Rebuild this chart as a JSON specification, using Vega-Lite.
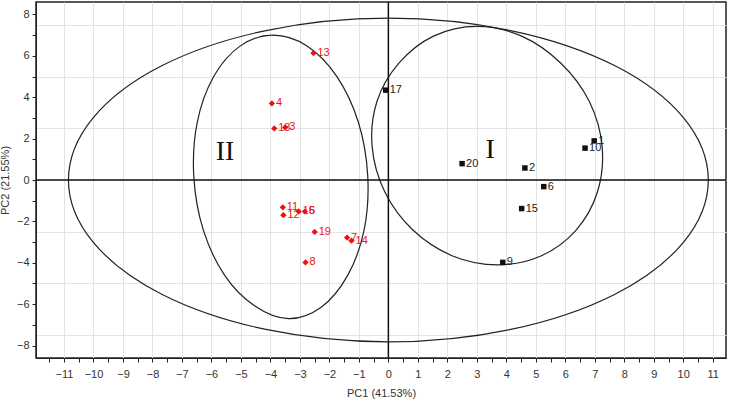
{
  "$schema": "https://vega.github.io/schema/vega-lite/v6.json",
  "width": 690,
  "height": 356,
  "autosize": "none",
  "padding": {"left": 36, "top": 2, "right": 14, "bottom": 44},
  "background": "white",
  "config": {
    "font": "Liberation Sans",
    "view": {"stroke": "#222", "strokeWidth": 1.5},
    "axis": {
      "domainColor": "#222",
      "tickColor": "#222",
      "gridColor": "#e3e3e3",
      "labelFont": "Liberation Sans",
      "labelFontSize": 11,
      "labelColor": "#333",
      "titleFont": "Liberation Sans",
      "titleFontSize": 11,
      "titleFontWeight": "normal",
      "titleColor": "#333",
      "labelOverlap": false,
      "labelFlush": false
    }
  },
  "datasets": {
    "red": [
      {"x": -2.54, "y": 6.13, "label": "13"},
      {"x": -3.95, "y": 3.70, "label": "4"},
      {"x": -3.87, "y": 2.49, "label": "18"},
      {"x": -3.50, "y": 2.54, "label": "3"},
      {"x": -3.58, "y": -1.32, "label": "11"},
      {"x": -3.56, "y": -1.70, "label": "12"},
      {"x": -3.04, "y": -1.52, "label": "16"},
      {"x": -2.83, "y": -1.52, "label": "5"},
      {"x": -2.50, "y": -2.51, "label": "19"},
      {"x": -1.40, "y": -2.78, "label": "7"},
      {"x": -1.25, "y": -2.93, "label": "14"},
      {"x": -2.81, "y": -3.98, "label": "8"}
    ],
    "black": [
      {"x": 6.98, "y": 1.89, "label": "1"},
      {"x": 6.67, "y": 1.54, "label": "10"},
      {"x": 2.50, "y": 0.79, "label": "20"},
      {"x": 4.63, "y": 0.58, "label": "2"},
      {"x": 5.27, "y": -0.32, "label": "6"},
      {"x": 4.52, "y": -1.38, "label": "15"},
      {"x": 3.88, "y": -3.98, "label": "9"},
      {"x": -0.09, "y": 4.34, "label": "17"}
    ],
    "roman": [
      {"x": 3.45, "y": 1.45, "label": "I"},
      {"x": -5.54, "y": 1.35, "label": "II"}
    ],
    "ellipses": [
      {"e": "big", "i": 0, "x": 10.85, "y": 0},
      {"e": "big", "i": 1, "x": 10.02, "y": 2.99},
      {"e": "big", "i": 2, "x": 7.67, "y": 5.53},
      {"e": "big", "i": 3, "x": 4.15, "y": 7.22},
      {"e": "big", "i": 4, "x": 0, "y": 7.82},
      {"e": "big", "i": 5, "x": -4.15, "y": 7.22},
      {"e": "big", "i": 6, "x": -7.67, "y": 5.53},
      {"e": "big", "i": 7, "x": -10.02, "y": 2.99},
      {"e": "big", "i": 8, "x": -10.85, "y": 0},
      {"e": "big", "i": 9, "x": -10.02, "y": -2.99},
      {"e": "big", "i": 10, "x": -7.67, "y": -5.53},
      {"e": "big", "i": 11, "x": -4.15, "y": -7.22},
      {"e": "big", "i": 12, "x": 0, "y": -7.82},
      {"e": "big", "i": 13, "x": 4.15, "y": -7.22},
      {"e": "big", "i": 14, "x": 7.67, "y": -5.53},
      {"e": "big", "i": 15, "x": 10.02, "y": -2.99},
      {"e": "II", "i": 0, "x": -0.70, "y": 0.20},
      {"e": "II", "i": 1, "x": -1.02, "y": 2.80},
      {"e": "II", "i": 2, "x": -1.75, "y": 5.01},
      {"e": "II", "i": 3, "x": -2.76, "y": 6.48},
      {"e": "II", "i": 4, "x": -3.91, "y": 7.00},
      {"e": "II", "i": 5, "x": -5.02, "y": 6.48},
      {"e": "II", "i": 6, "x": -5.92, "y": 5.01},
      {"e": "II", "i": 7, "x": -6.48, "y": 2.80},
      {"e": "II", "i": 8, "x": -6.60, "y": 0.20},
      {"e": "II", "i": 9, "x": -6.28, "y": -2.40},
      {"e": "II", "i": 10, "x": -5.55, "y": -4.61},
      {"e": "II", "i": 11, "x": -4.54, "y": -6.08},
      {"e": "II", "i": 12, "x": -3.39, "y": -6.70},
      {"e": "II", "i": 13, "x": -2.28, "y": -6.15},
      {"e": "II", "i": 14, "x": -1.38, "y": -4.61},
      {"e": "II", "i": 15, "x": -0.82, "y": -2.40},
      {"e": "I", "i": 0, "x": 7.25, "y": 1.60},
      {"e": "I", "i": 1, "x": 6.82, "y": 3.78},
      {"e": "I", "i": 2, "x": 5.86, "y": 5.63},
      {"e": "I", "i": 3, "x": 4.52, "y": 6.95},
      {"e": "I", "i": 4, "x": 3.00, "y": 7.42},
      {"e": "I", "i": 5, "x": 1.53, "y": 6.95},
      {"e": "I", "i": 6, "x": 0.35, "y": 5.63},
      {"e": "I", "i": 7, "x": -0.39, "y": 3.78},
      {"e": "I", "i": 8, "x": -0.55, "y": 1.60},
      {"e": "I", "i": 9, "x": -0.12, "y": -0.58},
      {"e": "I", "i": 10, "x": 0.84, "y": -2.43},
      {"e": "I", "i": 11, "x": 2.18, "y": -3.67},
      {"e": "I", "i": 12, "x": 3.70, "y": -4.10},
      {"e": "I", "i": 13, "x": 5.17, "y": -3.67},
      {"e": "I", "i": 14, "x": 6.36, "y": -2.43},
      {"e": "I", "i": 15, "x": 7.09, "y": -0.58}
    ],
    "origin": [{"x": 0, "y": 0}]
  },
  "encoding": {
    "x": {
      "field": "x", "type": "quantitative",
      "scale": {"domain": [-11.95, 11.45], "nice": false, "zero": false},
      "axis": {
        "title": "PC1 (41.53%)",
        "values": [-11.5,-11,-10.5,-10,-9.5,-9,-8.5,-8,-7.5,-7,-6.5,-6,-5.5,-5,-4.5,-4,-3.5,-3,-2.5,-2,-1.5,-1,-0.5,0,0.5,1,1.5,2,2.5,3,3.5,4,4.5,5,5.5,6,6.5,7,7.5,8,8.5,9,9.5,10,10.5,11],
        "format": ".0f",
        "labelExpr": "datum.value % 1 === 0 ? datum.label : ''",
        "gridOpacity": {"condition": {"test": "datum.value % 1 === 0", "value": 1}, "value": 0},
        "tickSize": 4,
        "labelPadding": 6,
        "titlePadding": 8
      }
    },
    "y": {
      "field": "y", "type": "quantitative",
      "scale": {"domain": [-8.6, 8.6], "nice": false, "zero": false},
      "axis": {
        "title": "PC2 (21.55%)",
        "values": [-8,-7.5,-7,-6,-5,-4,-3,-2.5,-2,-1,0,1,2,2.5,3,4,5,6,7,7.5,8],
        "format": ".0f",
        "labelExpr": "datum.value % 2 === 0 ? datum.label : ''",
        "gridOpacity": {"condition": {"test": "datum.value % 2.5 === 0", "value": 1}, "value": 0},
        "tickOpacity": {"condition": {"test": "datum.value % 1 === 0", "value": 1}, "value": 0},
        "tickSize": 4,
        "labelPadding": 3,
        "titlePadding": 6
      }
    }
  },
  "layer": [
    {
      "data": {"name": "ellipses"},
      "mark": {"type": "line", "interpolate": "cardinal-closed", "color": "#222", "strokeWidth": 1.2},
      "encoding": {
        "detail": {"field": "e", "type": "nominal"},
        "order": {"field": "i", "type": "quantitative"}
      }
    },
    {
      "data": {"name": "origin"},
      "mark": {"type": "rule", "color": "#111", "strokeWidth": 1.5},
      "encoding": {"y": {"datum": -8.6, "type": "quantitative"}, "y2": {"datum": 8.6}}
    },
    {
      "data": {"name": "origin"},
      "mark": {"type": "rule", "color": "#111", "strokeWidth": 1.5},
      "encoding": {"x": {"datum": -11.95, "type": "quantitative"}, "x2": {"datum": 11.45}}
    },
    {
      "data": {"name": "red"},
      "mark": {"type": "point", "shape": "diamond", "filled": true, "color": "#ee1111", "size": 40, "opacity": 1},
      "encoding": {}
    },
    {
      "data": {"name": "red"},
      "mark": {"type": "text", "align": "left", "baseline": "middle", "dx": 4, "fontSize": 11, "color": "#ee1111", "font": "Liberation Sans"},
      "encoding": {"text": {"field": "label"}}
    },
    {
      "data": {"name": "black"},
      "mark": {"type": "point", "shape": "square", "filled": true, "color": "#111", "size": 30, "opacity": 1},
      "encoding": {}
    },
    {
      "data": {"name": "black"},
      "mark": {"type": "text", "align": "left", "baseline": "middle", "dx": 4, "fontSize": 11, "color": "#222", "font": "Liberation Sans"},
      "encoding": {"text": {"field": "label"}}
    },
    {
      "data": {"name": "roman"},
      "mark": {"type": "text", "align": "center", "baseline": "middle", "fontSize": 28, "color": "#111", "font": "Liberation Serif"},
      "encoding": {"text": {"field": "label"}}
    }
  ]
}
